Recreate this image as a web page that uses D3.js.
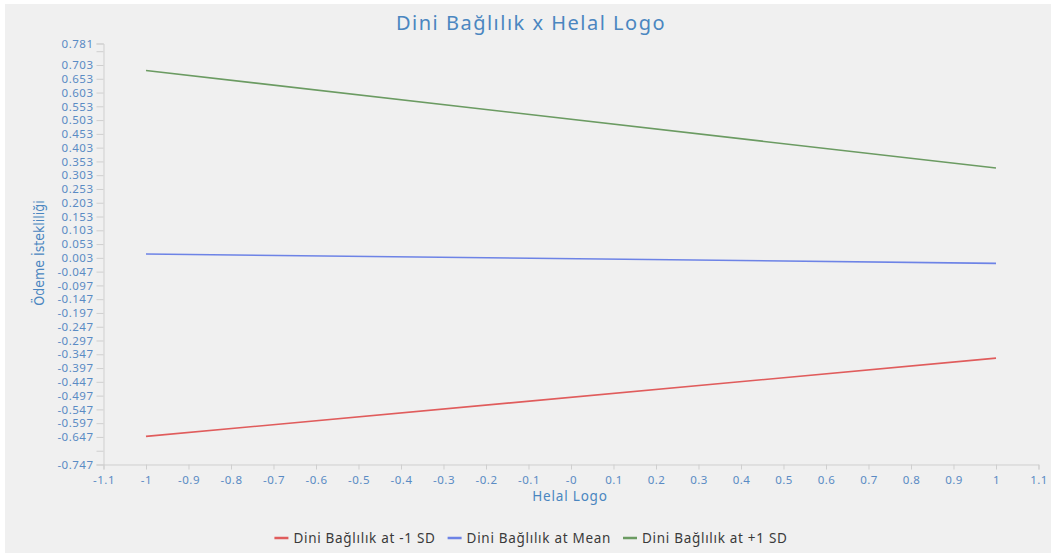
<!DOCTYPE html>
<html>
<head>
<meta charset="utf-8">
<script src="https://cdn.jsdelivr.net/npm/d3@7"></script>
<style>
  body { margin: 0; background: #fff; }
  text { font-family: "Noto Sans", "Open Sans", sans-serif; }
</style>
</head>
<body>
<div id="chart"></div>
<script>
var seriesNames = ["Dini Bağlılık at -1 SD", "Dini Bağlılık at Mean", "Dini Bağlılık at +1 SD"];
var seriesColors = ["#e05c5c", "#6d83e6", "#6b9b62"];
var xValues = [-1, 1];
var lowValues = [-0.645, -0.361];
var meanValues = [0.017, -0.017];
var highValues = [0.683, 0.329];
var yTicks = [-0.747, -0.697, -0.647, -0.597, -0.547, -0.497, -0.447, -0.397, -0.347, -0.297, -0.247, -0.197, -0.147, -0.097, -0.047, 0.003, 0.053, 0.103, 0.153, 0.203, 0.253, 0.303, 0.353, 0.403, 0.453, 0.503, 0.553, 0.603, 0.653, 0.703, 0.753, 0.781];
var yHidden = [-0.697, 0.753];
var xTicks = [-1.1, -1, -0.9, -0.8, -0.7, -0.6, -0.5, -0.4, -0.3, -0.2, -0.1, 0, 0.1, 0.2, 0.3, 0.4, 0.5, 0.6, 0.7, 0.8, 0.9, 1, 1.1];
var xTickLabels = ["-1.1", "-1", "-0.9", "-0.8", "-0.7", "-0.6", "-0.5", "-0.4", "-0.3", "-0.2", "-0.1", "-0", "0.1", "0.2", "0.3", "0.4", "0.5", "0.6", "0.7", "0.8", "0.9", "1", "1.1"];

var width = 1051, height = 553;
var textBlue = "#4a86c0";
var tickBlue = "#5a8bc4";

var svg = d3.select("#chart").append("svg")
  .attr("width", width).attr("height", height);

svg.append("rect").attr("x", 5).attr("y", 4)
  .attr("width", width - 5).attr("height", height - 4)
  .attr("fill", "#f0f0f0");

var x = d3.scaleLinear().domain([-1.1, 1.1]).range([103.5, 1038.5]);
var y = d3.scaleLinear().domain([-0.747, 0.781]).range([464.5, 43.5]);

// y axis
var yAxis = d3.axisLeft(y).tickValues(yTicks).tickSize(7).tickPadding(3)
  .tickFormat(function (d) { return yHidden.indexOf(d) >= 0 ? "" : d3.format(".3f")(d).replace("−", "-"); });
var gy = svg.append("g").attr("transform", "translate(103.5,0)").call(yAxis);
gy.select(".domain").attr("stroke", "#cfcfcf");
gy.selectAll(".tick line").attr("stroke", "#cfcfcf");
gy.selectAll(".tick text").attr("fill", tickBlue)
  .style("font-size", "11.5px").style("letter-spacing", "0.5px");

// x axis
var xAxis = d3.axisBottom(x).tickValues(xTicks).tickSize(5).tickPadding(6)
  .tickFormat(function (d, i) { return xTickLabels[i]; });
var gx = svg.append("g").attr("transform", "translate(0,464.5)").call(xAxis);
gx.select(".domain").attr("stroke", "#cfcfcf");
gx.selectAll(".tick line").attr("stroke", "#cfcfcf");
gx.selectAll(".tick text").attr("fill", tickBlue)
  .style("font-size", "11.5px").style("letter-spacing", "0.5px");

// lines
var all = [lowValues, meanValues, highValues];
var line = d3.line()
  .x(function (d, i) { return x(xValues[i]); })
  .y(function (d) { return y(d); });
svg.append("g").selectAll("path").data(all).enter().append("path")
  .attr("d", line)
  .attr("fill", "none")
  .attr("stroke-width", 1.6)
  .attr("stroke", function (d, i) { return seriesColors[i]; });

// title and axis labels
svg.append("text").attr("x", 531).attr("y", 30).attr("text-anchor", "middle")
  .attr("fill", textBlue).style("font-size", "20px").style("letter-spacing", "1.5px")
  .text("Dini Bağlılık x Helal Logo");
svg.append("text").attr("x", 570).attr("y", 501).attr("text-anchor", "middle")
  .attr("fill", textBlue).style("font-size", "13.5px").style("letter-spacing", "0.8px")
  .text("Helal Logo");
svg.append("text").attr("transform", "translate(44,253) rotate(-90)")
  .attr("text-anchor", "middle").attr("fill", textBlue)
  .style("font-family", "'DejaVu Sans Condensed', 'DejaVu Sans', sans-serif")
  .style("font-stretch", "condensed")
  .style("font-size", "14px")
  .text("Ödeme İstekliliği");

// legend
var legend = svg.append("g");
var items = legend.selectAll("g").data(seriesNames).enter().append("g");
items.append("line").attr("x1", 0).attr("x2", 14).attr("y1", 0).attr("y2", 0)
  .attr("stroke-width", 2.5).attr("stroke", function (d, i) { return seriesColors[i]; });
items.append("text").attr("x", 19).attr("dy", "0.35em").attr("fill", "#3a3a3a")
  .style("font-size", "13.5px").style("letter-spacing", "0.7px")
  .text(function (d) { return d; });
var pos = 0;
items.each(function () {
  var w = this.getBBox().width;
  d3.select(this).attr("data-x", pos);
  pos += w + 12;
});
var total = pos - 12;
var start = 531 - total / 2;
items.attr("transform", function () {
  return "translate(" + (start + (+this.getAttribute("data-x"))) + ",538)";
});
</script>
</body>
</html>
